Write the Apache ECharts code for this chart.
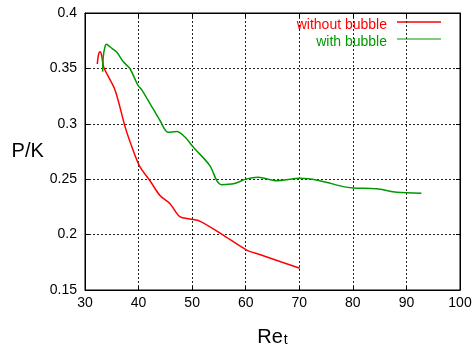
<!DOCTYPE html>
<html><head><meta charset="utf-8">
<script src="https://cdn.jsdelivr.net/npm/echarts@6/dist/echarts.min.js"></script>
<style>html,body{margin:0;padding:0;background:#fff}#c{width:474px;height:356px}</style>
</head><body><div id="c"></div>
<script>
const redX = [32.3, 32.5, 32.8, 33.1, 33.5, 35.6, 37.5, 39.0, 40.3, 42.1, 44.0, 45.9, 47.7, 49.6, 51.5, 55.5, 60.2, 62.6, 70.1];
const redY = [0.354, 0.362, 0.365, 0.362, 0.351, 0.3306, 0.297, 0.2759, 0.2608, 0.2488, 0.2352, 0.2277, 0.2162, 0.2141, 0.212, 0.2005, 0.186, 0.182, 0.1697];
const greenX = [33.3, 33.4, 33.7, 34.0, 34.7, 35.9, 37.2, 38.4, 39.9, 40.6, 42.7, 44.0, 45.5, 47.1, 48.7, 50.2, 53.3, 54.6, 55.5, 57.7, 60.2, 62.3, 65.8, 70.1, 73.8, 78.2, 80.1, 84.4, 88.2, 92.8];
const greenY = [0.347, 0.36, 0.369, 0.3717, 0.3693, 0.3647, 0.3557, 0.3497, 0.3346, 0.3306, 0.3136, 0.303, 0.2924, 0.293, 0.2879, 0.279, 0.2623, 0.2487, 0.2451, 0.2458, 0.2503, 0.2518, 0.2487, 0.2508, 0.2487, 0.2433, 0.2421, 0.2413, 0.2382, 0.2373];
const seriesNames = ['without bubble', 'with bubble'];
const xTicks = [30, 40, 50, 60, 70, 80, 90, 100];
const yTicks = [0.15, 0.2, 0.25, 0.3, 0.35, 0.4];

const font = 'Liberation Sans, Arial, sans-serif';
const chart = echarts.init(document.getElementById('c'), null, {renderer: 'canvas'});
const zip = (a, b) => a.map((v, i) => [v, b[i]]);
const splitStyle = {show: true, lineStyle: {color: '#222', type: [2, 2], width: 1}};
const legendItems = [
  {name: seriesNames[0], text: '#ff0000', line: '#ff0000', y: 22},
  {name: seriesNames[1], text: '#009900', line: '#55bb55', y: 39}
];
const graphic = [];
legendItems.forEach(it => {
  graphic.push({type: 'text', x: 387, y: it.y + 3, style: {text: it.name, fill: it.text,
    fontFamily: font, fontSize: 14, align: 'right', verticalAlign: 'middle'}});
  graphic.push({type: 'line', shape: {x1: 397, y1: it.y, x2: 441, y2: it.y},
    style: {stroke: it.line, lineWidth: 1.5}});
});
chart.setOption({
  animation: false,
  backgroundColor: '#fff',
  grid: {left: 85, right: 14, top: 13, bottom: 66, show: true, borderColor: '#000', borderWidth: 1,
    containLabel: false, outerBoundsMode: 'none'},
  legend: {show: false, data: seriesNames},
  graphic: graphic,
  xAxis: [{
    type: 'value', min: xTicks[0], max: xTicks[xTicks.length - 1], interval: 10,
    name: '{a|Re}{b|t}', nameLocation: 'middle', nameGap: 37,
    nameTextStyle: {rich: {a: {fontFamily: font, fontSize: 20, color: '#000'}, b: {fontFamily: font, fontSize: 14, color: '#000', padding: [6, 0, 0, 1]}}},
    axisLine: {show: true, lineStyle: {color: '#000'}},
    axisTick: {show: true, inside: true, length: 4, lineStyle: {color: '#000'}},
    axisLabel: {fontFamily: font, fontSize: 14, color: '#000', margin: 6},
    splitLine: splitStyle
  }, {
    type: 'value', position: 'top', min: xTicks[0], max: xTicks[xTicks.length - 1], interval: 10,
    axisLine: {show: true, lineStyle: {color: '#000'}},
    axisTick: {show: true, inside: true, length: 4, lineStyle: {color: '#000'}},
    axisLabel: {show: false}, splitLine: {show: false}
  }],
  yAxis: [{
    type: 'value', min: yTicks[0], max: yTicks[yTicks.length - 1], interval: 0.05,
    name: 'P/K', nameLocation: 'middle', nameGap: 40, nameRotate: 0,
    nameTextStyle: {fontFamily: font, fontSize: 20, color: '#000'},
    axisLine: {show: true, lineStyle: {color: '#000'}},
    axisTick: {show: true, inside: true, length: 4, lineStyle: {color: '#000'}},
    axisLabel: {fontFamily: font, fontSize: 14, color: '#000', margin: 8,
      formatter: v => String(parseFloat(v.toFixed(2)))},
    splitLine: splitStyle
  }, {
    type: 'value', position: 'right', min: yTicks[0], max: yTicks[yTicks.length - 1], interval: 0.05,
    axisLine: {show: true, lineStyle: {color: '#000'}},
    axisTick: {show: true, inside: true, length: 4, lineStyle: {color: '#000'}},
    axisLabel: {show: false}, splitLine: {show: false}
  }],
  series: [
    {name: seriesNames[0], type: 'line', data: zip(redX, redY), showSymbol: false, smooth: 0.3,
      lineStyle: {color: '#ff0000', width: 1.5}, itemStyle: {color: '#ff0000'}},
    {name: seriesNames[1], type: 'line', data: zip(greenX, greenY), showSymbol: false, smooth: 0.3,
      lineStyle: {color: '#009900', width: 1.5}, itemStyle: {color: '#009900'}}
  ]
});
</script></body></html>
